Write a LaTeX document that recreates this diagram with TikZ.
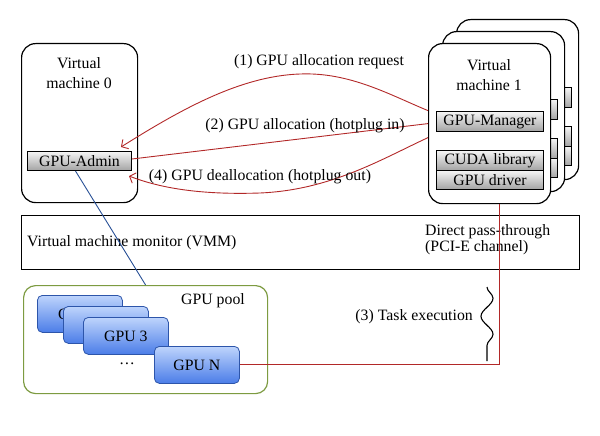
\documentclass[tikz,border=0pt]{standalone}
\usepackage{fontspec}
\setmainfont{Liberation Serif}
\usetikzlibrary{decorations.pathmorphing,arrows.meta,calc}
\definecolor{redline}{RGB}{178,40,40}
\definecolor{poolgreen}{RGB}{125,155,65}
\definecolor{gpuborder}{RGB}{45,85,170}
\definecolor{gputop}{RGB}{190,212,252}
\definecolor{gpubot}{RGB}{75,125,232}
\definecolor{bluelink}{RGB}{40,80,150}
\begin{document}
\begin{tikzpicture}[x=1pt,y=-1pt,
  font=\fontsize{15.8}{19}\selectfont,
  vmbox/.style={draw, line width=1.2pt, rounded corners=14pt, fill=white, anchor=north west, inner sep=0pt},
  graybox/.style={draw, line width=1pt, top color=gray!8, bottom color=gray!72, anchor=north west, inner sep=0pt},
  gpubox/.style={draw=gpuborder, line width=0.8pt, rounded corners=5pt, top color=gputop, bottom color=gpubot, anchor=north west, inner sep=0pt, minimum width=85, minimum height=37},
  redlink/.style={draw=redline, line width=0.9pt},
  redarrow/.style={redlink, -{Straight Barb[length=5pt,width=11pt]}},
  plain/.style={inner sep=0pt, align=center}
]
\useasboundingbox (0,0) rectangle (600,436);

% back virtual machines
\node[vmbox, minimum width=122, minimum height=160] (vm1c) at (456,19) {};
\node[graybox, minimum width=107, minimum height=20] (mgrc) at (464,87) {};
\node[graybox, minimum width=107, minimum height=20] (cudac) at (464,126) {};
\node[graybox, minimum width=107, minimum height=19] (drvc) at (464,146) {};
\node[vmbox, minimum width=122, minimum height=160] (vm1b) at (442,31) {};
\node[graybox, minimum width=107, minimum height=20] (mgrb) at (450,99) {};
\node[graybox, minimum width=107, minimum height=20] (cudab) at (450,138) {};
\node[graybox, minimum width=107, minimum height=19] (drvb) at (450,158) {};

% front virtual machine 1
\node[vmbox, minimum width=122, minimum height=160] (vm1) at (428,43) {};
\node[plain] (vm1t) at (489,75) {Virtual\\[1pt]machine 1};
\node[graybox, minimum width=107, minimum height=20] (mgr) at (436,111) {GPU-Manager};
\node[graybox, minimum width=107, minimum height=20] (cuda) at (436,150) {CUDA library};
\node[graybox, minimum width=107, minimum height=19] (drv) at (436,170) {GPU driver};

% virtual machine 0
\node[vmbox, minimum width=116, minimum height=159] (vm0) at (21,43) {};
\node[plain] (vm0t) at (79,73) {Virtual\\[1pt]machine 0};
\node[graybox, minimum width=104, minimum height=19] (admin) at (27,151) {GPU-Admin};

% VMM
\node[draw, line width=1.2pt, anchor=north west, minimum width=558, minimum height=54, inner sep=0pt] (vmm) at (21,215) {};
\node[plain, anchor=west] (vmmt) at (27,243) {Virtual machine monitor (VMM)};
\node[inner sep=0pt, align=left, anchor=west, font=\fontsize{15.8}{16}\selectfont] (pass) at (425,240) {Direct pass-through\\(PCI-E channel)};

% GPU pool
\node[draw=poolgreen, line width=1.2pt, rounded corners=12pt, anchor=north west, minimum width=244, minimum height=108, inner sep=0pt] (pool) at (23,285) {};
\node[plain] (poolt) at (213,301) {GPU pool};
\node[gpubox] (g1) at (37,295) {GPU 1};
\node[gpubox] (g2) at (63,306) {};
\node[gpubox] (g3) at (83,317) {GPU 3};
\node[plain] (dots) at (127,364) {\dots};
\node[gpubox] (gN) at (154,346) {GPU N};

% connectors
\draw[bluelink, line width=0.9pt] ([xshift=-4pt]admin.south) -- (pool.north);
\draw[redlink] (gN.east) -| ([xshift=10pt]vm1.south);

\draw[redarrow] ([yshift=13pt]vm1.west) .. controls (390,95) and (350,72) .. (300,74)
  .. controls (240,76) and (180,110) .. ([xshift=-11pt,yshift=4pt]admin.north east);
\draw[redlink] ([yshift=2pt]admin.east) -- (vm1.west);
\draw[redarrow] ([yshift=-14pt]vm1.west) .. controls (380,160) and (330,190) .. (260,193)
  .. controls (200,195) and (160,188) .. ([xshift=-3pt,yshift=-5pt]admin.south east);

\node[plain] (l1) at (319,62) {(1) GPU allocation request};
\node[plain] (l2) at (305,126) {(2) GPU allocation (hotplug in)};
\node[plain] (l4) at (260,177) {(4) GPU deallocation (hotplug out)};
\node[plain, anchor=east] (l3) at (473,317) {(3) Task execution};

\draw[line width=1.1pt, decorate, decoration={snake, segment length=36pt, amplitude=6pt}] (487,287) -- (487,361);
\end{tikzpicture}
\end{document}
